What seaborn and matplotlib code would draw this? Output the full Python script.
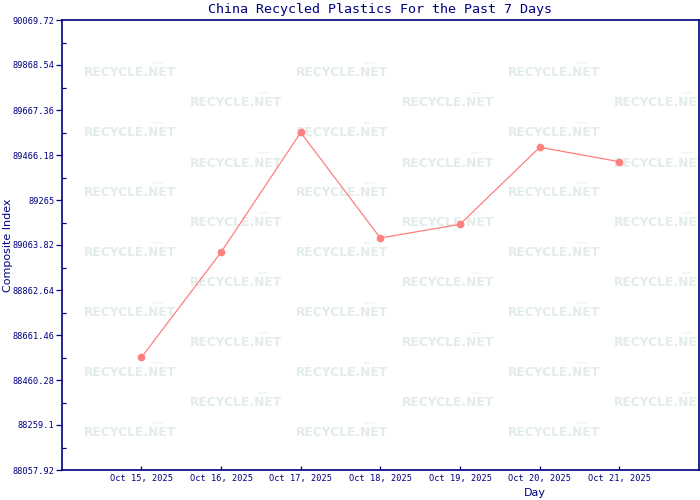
import numpy as np
import pandas as pd
import matplotlib
matplotlib.use("Agg")
import matplotlib.pyplot as plt
import seaborn as sns

# datos
dias = ['Oct 15, 2025', 'Oct 16, 2025', 'Oct 17, 2025', 'Oct 18, 2025',
        'Oct 19, 2025', 'Oct 20, 2025', 'Oct 21, 2025']
indice = [88560.9, 89031.2, 89566.8, 89095.1, 89156.3, 89500.6, 89436.2]

y_min = 88057.92
y_max = 90069.72

titulo = 'China Recycled Plastics For the Past 7 Days'
marca = 'RECYCLE.NET'

navy = '#000080'
rojo = '#ff7f7f'

sns.set_style('white')
plt.rcParams['font.family'] = ['DejaVu Sans Mono', 'DejaVu Sans']

df = pd.DataFrame({'Day': dias, 'Composite Index': indice})

fig = plt.figure(figsize=(7, 5), dpi=100)
ax = fig.add_axes([61.7 / 700, 30 / 500, 637.3 / 700, 450 / 500])

# marcas de agua (dentro del eje, debajo de la linea)
for i in range(13):
    yy = 73 + 30 * i
    xs = [130, 342, 554] if i % 2 == 0 else [236, 448, 660]
    for xx in xs:
        ax.text(xx / 700, 1 - yy / 500, marca, color='#e2ecea', fontsize=8.8,
                fontweight='bold', family='DejaVu Sans', ha='center', va='center',
                transform=fig.transFigure, zorder=0, clip_on=True)
        ax.text((xx + 28) / 700, 1 - (yy - 9) / 500, '~~', color='#e6eeec',
                fontsize=7, ha='center', va='center',
                transform=fig.transFigure, zorder=0, clip_on=True)

sns.lineplot(data=df, x='Day', y='Composite Index', ax=ax, color=rojo,
             linewidth=0.9, marker='o', markersize=5.5, markeredgewidth=0,
             sort=False, zorder=3)

ax.set_xlim(-1, 7)
ax.set_ylim(y_min, y_max)

yt = np.linspace(y_min, y_max, 11)
ax.set_yticks(yt)
ax.set_yticklabels([f'{v:.2f}'.rstrip('0').rstrip('.') for v in yt])
ax.set_yticks((yt[:-1] + yt[1:]) / 2, minor=True)

ax.tick_params(axis='y', which='major', direction='out', length=4.2, width=0.9,
               color=navy, labelcolor=navy, labelsize=6.2, pad=1, left=True)
ax.tick_params(axis='y', which='minor', direction='in', length=3, width=0.9,
               color=navy, left=True)
ax.tick_params(axis='x', which='major', direction='in', length=3, width=0.9,
               color=navy, labelcolor=navy, labelsize=6.2, pad=3, bottom=True)

for s in ax.spines.values():
    s.set_color(navy)
    s.set_linewidth(1.2)

ax.set_xlabel('Day', color=navy, fontsize=8, family='DejaVu Sans')
ax.xaxis.set_label_coords(0.743, -0.04)
ax.set_ylabel('Composite Index', color=navy, fontsize=8, family='DejaVu Sans')
ax.yaxis.set_label_coords(-0.077, 0.5)

fig.text(380 / 700, 1 - 9 / 500, titulo, color=navy, fontsize=9.6,
         ha='center', va='center')

fig.savefig('out.png', dpi=100)
